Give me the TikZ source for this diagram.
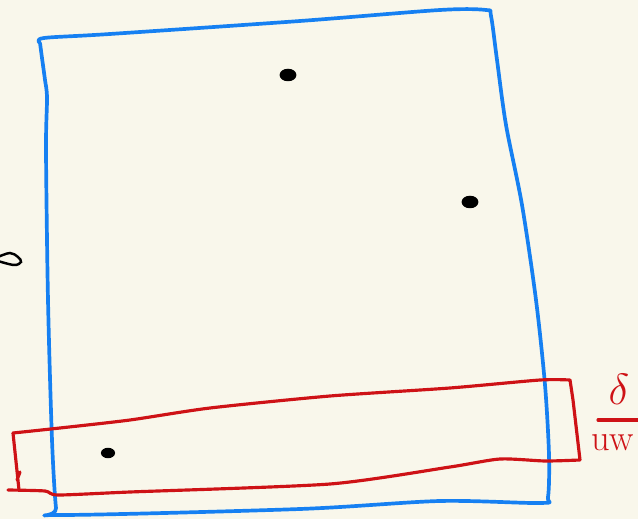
\documentclass[tikz,border=0pt]{standalone}
\usepackage{tikz}
\usetikzlibrary{positioning,shapes.geometric}
\usepackage{xcolor}
\usepackage{amsmath,amssymb}
\definecolor{paperBG}{RGB}{249,247,235}
\definecolor{penBL}{RGB}{22,128,242}
\definecolor{penRD}{RGB}{206,18,22}
\tikzset{
  bluepen/.style={penBL,line width=2.1pt,line cap=round,line join=round},
  redpen/.style={penRD,line width=1.8pt,line cap=round,line join=round},
  dot/.style={ellipse,fill=black,inner sep=0pt,minimum width=#1*1.35,minimum height=#1},
  dot/.default=0.25cm
}

\begin{document}
\begin{tikzpicture}[x=0.02cm,y=-0.02cm]
        \fill[paperBG] (0,0) rectangle (638,519);
        \useasboundingbox (0,0) rectangle (638,519);
        % the sheet
        \draw[bluepen] plot[smooth,tension=0.5] coordinates
          {(40,43) (44,38) (110,34) (300,21) (440,10) (486,10) (491,16)
           (497,60) (506,125) (522,205) (536,300) (545,385) (549,455) (548,497)
           (541,503) (440,501) (300,509) (60,515) (56,508) (52,440) (48,300) (46,150) (47,98)
           (45,80) (42,58) (40,43)};
        % the band
        \draw[redpen] plot[smooth,tension=0.4] coordinates
          {(13,433) (60,428) (130,420) (210,408) (330,396) (450,388) (540,380) (570,380)}
          -- (573,400) -- (580,460)
          plot[smooth,tension=0.4] coordinates
          {(580,460) (545,461) (500,459) (450,467) (330,484) (130,492) (58,495) (45,491) (8,490)};
        \draw[redpen] (13,433) -- (19,490) (17,480) -- (20,472);
        % points
        \node[dot] (pa) at (288,75) {};
        \node[dot] (pb) at (470,202) {};
        \node[dot=0.21cm] (pc) at (108,453) {};
        % cut-off mark at the left edge
        \draw[line width=1.4pt,line cap=round] plot[smooth,tension=0.6] coordinates
          {(-2,257) (10,253) (18,257) (21,262) (14,265) (-2,261)};
        % label of the band
        \node[text=penRD,font=\fontsize{29}{30}\selectfont,inner sep=0pt] (dl) at (619,389) {$\delta$};
        \coordinate (fl) at (598,420);
        \draw[redpen] (fl) -- ++(50,0);
        \node[text=penRD,font=\huge,inner sep=0pt,anchor=base west] (uw) at (591,450) {uw};
\end{tikzpicture}
\end{document}
